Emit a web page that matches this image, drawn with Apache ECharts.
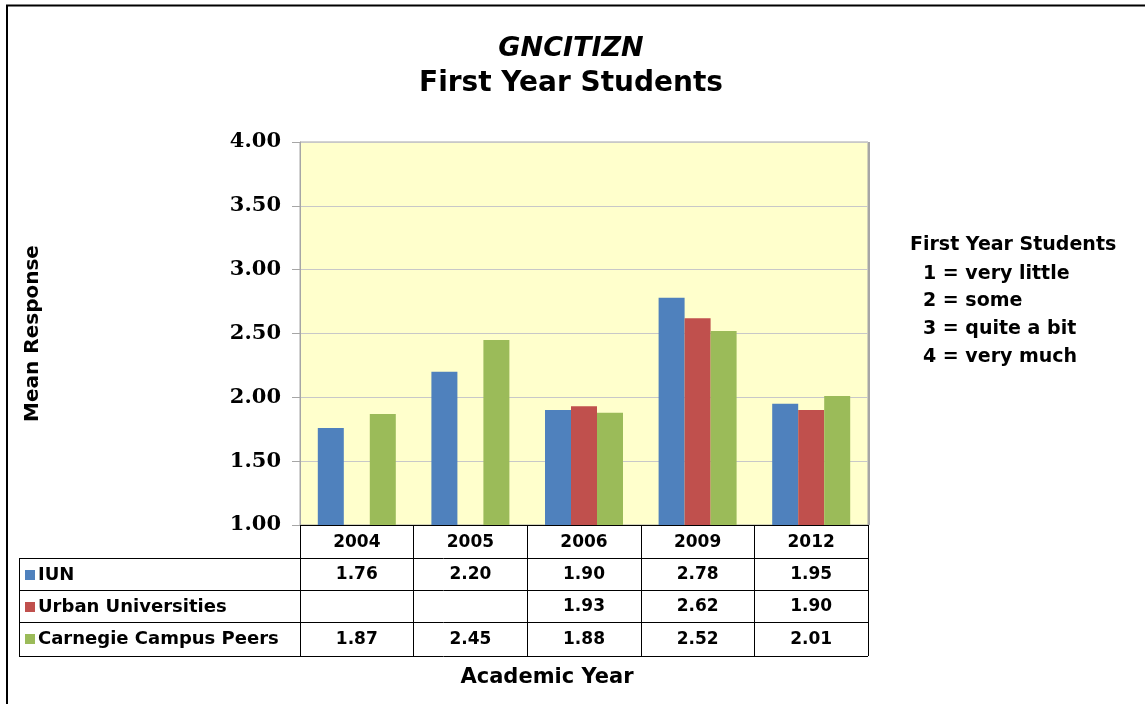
<!DOCTYPE html>
<html>
<head>
<meta charset="utf-8">
<script src="https://cdn.jsdelivr.net/npm/echarts@6/dist/echarts.min.js"></script>
<style>
  html, body { margin: 0; padding: 0; background: #fff; }
  #chart { width: 1145px; height: 704px; }
</style>
</head>
<body>
<div id="chart"></div>
<script>
  // data
  const years = ['2004', '2005', '2006', '2009', '2012'];
  const seriesNames = ['IUN', 'Urban Universities', 'Carnegie Campus Peers'];
  const iun = [1.76, 2.20, 1.90, 2.78, 1.95];
  const urban = [null, null, 1.93, 2.62, 1.90];
  const carnegie = [1.87, 2.45, 1.88, 2.52, 2.01];
  const colors = ['#4F81BD', '#C0504D', '#9BBB59'];
  const scaleLines = ['1 = very little', '2 = some', '3 = quite a bit', '4 = very much'];

  // layout
  const G = { left: 300, top: 142, width: 568, height: 383 };
  const tableLeft = 19;
  const rowLines = [558, 590, 622, 656];
  const rows = [iun, urban, carnegie];

  const sans = 'DejaVu Sans';
  const fmt = v => (v == null ? '' : v.toFixed(2));

  // one hidden x axis per table row, the labels are the row values
  const rowAxes = rows.map((arr, r) => ({
    type: 'category',
    data: years,
    gridIndex: 0,
    position: 'bottom',
    axisLine: { show: false },
    axisTick: { show: false },
    axisLabel: {
      interval: 0,
      margin: [41, 73, 106][r],
      fontFamily: sans, fontWeight: 'bold', fontSize: 17, color: '#000',
      formatter: (v, i) => fmt(arr[i])
    }
  }));

  const tableGraphics = [];
  rowLines.forEach(y => {
    tableGraphics.push({
      type: 'line', silent: true,
      shape: { x1: tableLeft, y1: y + 0.5, x2: G.left + G.width, y2: y + 0.5 },
      style: { stroke: '#000', lineWidth: 1 }
    });
  });
  tableGraphics.push({
    type: 'line', silent: true,
    shape: { x1: tableLeft + 0.5, y1: rowLines[0], x2: tableLeft + 0.5, y2: rowLines[3] + 1 },
    style: { stroke: '#000', lineWidth: 1 }
  });

  const myChart = echarts.init(document.getElementById('chart'));
  myChart.setOption({
    animation: false,
    color: colors,
    title: [
      {
        text: 'GNCITIZN', left: 566, top: 30, textAlign: 'center',
        textStyle: { fontFamily: sans, fontWeight: 'bold', fontStyle: 'italic', fontSize: 27, color: '#000' }
      },
      {
        text: 'First Year Students', left: 566, top: 65, textAlign: 'center',
        textStyle: { fontFamily: sans, fontWeight: 'bold', fontSize: 28, color: '#000' }
      }
    ],
    legend: {
      orient: 'vertical',
      left: 25,
      top: 565,
      padding: 0,
      itemGap: 12,
      itemWidth: 10,
      itemHeight: 10,
      icon: 'rect',
      selectedMode: false,
      data: seriesNames,
      textStyle: { fontFamily: sans, fontWeight: 'bold', fontSize: 18, color: '#000', lineHeight: 20, padding: [0, 0, 0, -2] }
    },
    grid: {
      left: G.left, top: G.top, width: G.width, height: G.height,
      show: true, backgroundColor: '#FFFFCC', borderColor: '#A6A6A6', borderWidth: 1
    },
    xAxis: [
      {
        type: 'category',
        data: years,
        axisLine: { lineStyle: { color: '#000', width: 1 } },
        axisTick: { show: true, interval: 0, length: 131, lineStyle: { color: '#000', width: 1 } },
        axisLabel: { interval: 0, margin: 9, fontFamily: sans, fontWeight: 'bold', fontSize: 17, color: '#000' }
      }
    ].concat(rowAxes),
    yAxis: {
      type: 'value',
      min: 1, max: 4, interval: 0.5,
      name: 'Mean Response',
      nameLocation: 'middle',
      nameGap: 257,
      nameTextStyle: { fontFamily: sans, fontWeight: 'bold', fontSize: 20, color: '#000' },
      axisLine: { show: true, lineStyle: { color: '#A6A6A6' } },
      axisTick: { show: true, length: 8, lineStyle: { color: '#A6A6A6' } },
      splitLine: { lineStyle: { color: '#C8C8C8' } },
      axisLabel: {
        margin: 19,
        fontFamily: 'DejaVu Serif', fontWeight: 'bold', fontSize: 21, color: '#000',
        formatter: v => v.toFixed(2)
      }
    },
    series: [
      { name: seriesNames[0], type: 'bar', data: iun, barWidth: 26, barGap: 0 },
      { name: seriesNames[1], type: 'bar', data: urban, barWidth: 26, barGap: 0 },
      { name: seriesNames[2], type: 'bar', data: carnegie, barWidth: 26, barGap: 0 }
    ],
    graphic: tableGraphics.concat([
      {
        type: 'line', silent: true,
        shape: { x1: G.left + G.width + 1, y1: G.top, x2: G.left + G.width + 1, y2: G.top + G.height },
        style: { stroke: '#A6A6A6', lineWidth: 2 }
      },
      {
        type: 'text', x: 547, y: 667, silent: true,
        style: { text: 'Academic Year', fontFamily: sans, fontWeight: 'bold', fontSize: 21, fill: '#000', align: 'center', textAlign: 'center' }
      },
      {
        type: 'text', left: 910, top: 236, silent: true,
        style: { text: 'First Year Students', fontFamily: sans, fontWeight: 'bold', fontSize: 19, fill: '#000' }
      },
      {
        type: 'text', left: 923, top: 260, silent: true,
        style: { text: scaleLines.join('\n'), fontFamily: sans, fontWeight: 'bold', fontSize: 19, lineHeight: 27.7, fill: '#000' }
      },
      {
        type: 'line', silent: true,
        shape: { x1: 6, y1: 5.5, x2: 1145, y2: 5.5 },
        style: { stroke: '#000', lineWidth: 2 }
      },
      {
        type: 'line', silent: true,
        shape: { x1: 7, y1: 5, x2: 7, y2: 704 },
        style: { stroke: '#000', lineWidth: 2 }
      }
    ])
  });

  window.addEventListener('resize', () => {
    myChart.resize();
  });
</script>
</body>
</html>
